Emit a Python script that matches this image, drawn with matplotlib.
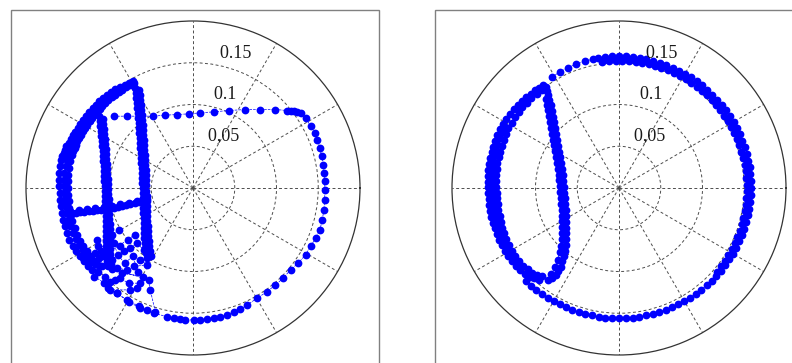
import numpy as np
import matplotlib
matplotlib.use('Agg')
import matplotlib.pyplot as plt
from matplotlib.patches import Rectangle

# radial grid
R_MAX = 0.2
RING_VALUES = [0.05, 0.1, 0.15]
RING_LABELS = ['0,05', '0.1', '0.15']

# ---- left panel: trajectory (x, y components) ----
left_loop_x = [-0.0952, -0.0792, -0.064, -0.048, -0.0332, -0.0192, -0.0052, 0.0088, 0.0248, 0.0428,
               0.0628, 0.0808, 0.0988, 0.1128, 0.1168, 0.1208, 0.1248, 0.1288, 0.1348, 0.1408,
               0.1456, 0.1488, 0.152, 0.154, 0.156, 0.1568, 0.1576, 0.158, 0.1576, 0.1568,
               0.1548, 0.152, 0.1468, 0.1408, 0.1348, 0.126, 0.1168, 0.108, 0.0988, 0.0888,
               0.0768, 0.0648, 0.0568, 0.0488, 0.0408, 0.0328, 0.0248, 0.0168, 0.0088, 0.0008,
               -0.0092, -0.0152, -0.0232, -0.0312, -0.0472, -0.0632, -0.0772, -0.0912, -0.1012]
left_loop_y = [0.086, 0.086, 0.086, 0.086, 0.0872, 0.088, 0.0888, 0.090, 0.0912, 0.0928,
               0.094, 0.094, 0.094, 0.0928, 0.0928, 0.0928, 0.0916, 0.090, 0.084, 0.074,
               0.066, 0.058, 0.048, 0.038, 0.028, 0.018, 0.008, -0.002, -0.014, -0.026,
               -0.038, -0.050, -0.060, -0.070, -0.080, -0.090, -0.098, -0.108, -0.116, -0.124,
               -0.132, -0.140, -0.1452, -0.148, -0.152, -0.154, -0.156, -0.1572, -0.158, -0.158,
               -0.158, -0.1572, -0.156, -0.154, -0.150, -0.144, -0.136, -0.126, -0.120]

left_arc_outer_x = [-0.072, -0.077, -0.082, -0.0876, -0.0932, -0.098, -0.1028, -0.1076, -0.1124, -0.1163,
                    -0.1202, -0.1241, -0.128, -0.1314, -0.1348, -0.1382, -0.1416, -0.1441, -0.1466, -0.1491,
                    -0.1516, -0.1533, -0.155, -0.1567, -0.1584, -0.1592, -0.160, -0.160, -0.160, -0.1596,
                    -0.1592, -0.1582, -0.1572, -0.1554, -0.1536, -0.1508, -0.148, -0.1442, -0.1404, -0.1354,
                    -0.1304, -0.1256, -0.1208]
left_arc_outer_y = [0.1284, 0.126, 0.1237, 0.1213, 0.1188, 0.1155, 0.1118, 0.1081, 0.1044, 0.100,
                    0.0956, 0.0912, 0.0868, 0.082, 0.0772, 0.0724, 0.0676, 0.063, 0.0588, 0.0544,
                    0.050, 0.046, 0.042, 0.038, 0.034, 0.026, 0.018, 0.010, 0.002, -0.006,
                    -0.014, -0.022, -0.030, -0.038, -0.046, -0.054, -0.062, -0.069, -0.076, -0.082,
                    -0.088, -0.093, -0.098]
left_arc_mid_x = [-0.0745, -0.080, -0.0855, -0.091, -0.0955, -0.100, -0.1045, -0.109, -0.1125, -0.116,
                  -0.1195, -0.123, -0.126, -0.129, -0.132, -0.135, -0.1374, -0.1398, -0.1422, -0.1446,
                  -0.1466, -0.1486, -0.1506, -0.1526, -0.154, -0.1546, -0.1548, -0.1546, -0.1542, -0.1532,
                  -0.1516, -0.1496, -0.147, -0.144, -0.1404, -0.1366, -0.1322, -0.1276, -0.1228, -0.1178]
left_arc_mid_y = [0.1253, 0.1225, 0.1196, 0.1168, 0.113, 0.1092, 0.1054, 0.1016, 0.0976, 0.0936,
                  0.0896, 0.0856, 0.0812, 0.0768, 0.0724, 0.068, 0.0636, 0.0592, 0.0548, 0.0504,
                  0.046, 0.040, 0.033, 0.026, 0.018, 0.010, 0.002, -0.006, -0.014, -0.022,
                  -0.030, -0.038, -0.046, -0.054, -0.061, -0.068, -0.0745, -0.0805, -0.086, -0.091]
left_arc_inner_x = [-0.0712, -0.0757, -0.0802, -0.0847, -0.0892, -0.0932, -0.0972, -0.1012, -0.1052, -0.1085,
                    -0.1118, -0.1151, -0.1184, -0.1211, -0.1238, -0.1265, -0.1292, -0.1315, -0.1338, -0.1361,
                    -0.1384, -0.1401, -0.1418, -0.1435, -0.1452, -0.147, -0.1488, -0.1492, -0.1496, -0.1496,
                    -0.1496, -0.1488, -0.148, -0.1462, -0.1444, -0.1418, -0.1392, -0.1352, -0.1312, -0.1268,
                    -0.1224, -0.1178, -0.1132]
left_arc_inner_y = [0.126, 0.1232, 0.1204, 0.1176, 0.1148, 0.1116, 0.1084, 0.1052, 0.102, 0.0985,
                    0.095, 0.0915, 0.088, 0.084, 0.080, 0.076, 0.072, 0.068, 0.064, 0.060,
                    0.056, 0.052, 0.048, 0.044, 0.040, 0.032, 0.024, 0.016, 0.008, 0.0,
                    -0.008, -0.016, -0.024, -0.032, -0.040, -0.048, -0.056, -0.063, -0.070, -0.076,
                    -0.082, -0.087, -0.092]

left_vert_a_x = [-0.0694, -0.0686, -0.0678, -0.0672, -0.0666, -0.066, -0.0655, -0.065, -0.0646, -0.0642,
                 -0.0638, -0.0634, -0.063, -0.0626, -0.0622, -0.0618, -0.0614, -0.0611, -0.0608, -0.0606,
                 -0.0604, -0.0602, -0.060, -0.0598, -0.0596, -0.0594, -0.0592, -0.059, -0.0588, -0.0585,
                 -0.0581, -0.0576, -0.057, -0.0562, -0.0552]
left_vert_a_y = [0.120, 0.114, 0.108, 0.102, 0.096, 0.090, 0.084, 0.078, 0.072, 0.066,
                 0.060, 0.054, 0.048, 0.042, 0.036, 0.030, 0.024, 0.018, 0.012, 0.006,
                 0.0, -0.006, -0.012, -0.018, -0.024, -0.030, -0.036, -0.042, -0.048, -0.054,
                 -0.060, -0.066, -0.072, -0.078, -0.084]
left_vert_b_x = [-0.0644, -0.0636, -0.0629, -0.0623, -0.0617, -0.0612, -0.0607, -0.0603, -0.0599, -0.0595,
                 -0.0591, -0.0587, -0.0583, -0.0579, -0.0575, -0.0571, -0.0568, -0.0565, -0.0562, -0.056,
                 -0.0558, -0.0556, -0.0554, -0.0552, -0.055, -0.0548, -0.0546, -0.0544, -0.0541, -0.0537,
                 -0.0532, -0.0526, -0.0518, -0.0508]
left_vert_b_y = [0.117, 0.111, 0.105, 0.099, 0.093, 0.087, 0.081, 0.075, 0.069, 0.063,
                 0.057, 0.051, 0.045, 0.039, 0.033, 0.027, 0.021, 0.015, 0.009, 0.003,
                 -0.003, -0.009, -0.015, -0.021, -0.027, -0.033, -0.039, -0.045, -0.051, -0.057,
                 -0.063, -0.069, -0.075, -0.081]

left_inner_a_x = [-0.112, -0.1114, -0.1108, -0.1102, -0.1097, -0.1092, -0.1087, -0.1082, -0.1078, -0.1074,
                  -0.107, -0.1066, -0.1063, -0.106, -0.1057, -0.1054, -0.1052, -0.105, -0.1048, -0.1046,
                  -0.1044, -0.1042, -0.1041, -0.104, -0.104, -0.1039, -0.1037, -0.1034, -0.103, -0.1025,
                  -0.1018]
left_inner_a_y = [0.086, 0.080, 0.074, 0.068, 0.062, 0.056, 0.050, 0.044, 0.038, 0.032,
                  0.026, 0.020, 0.014, 0.008, 0.002, -0.004, -0.010, -0.016, -0.022, -0.028,
                  -0.034, -0.040, -0.046, -0.052, -0.058, -0.064, -0.070, -0.076, -0.082, -0.088,
                  -0.094]
left_inner_b_x = [-0.1078, -0.1072, -0.1066, -0.106, -0.1055, -0.105, -0.1045, -0.104, -0.1036, -0.1032,
                  -0.1028, -0.1024, -0.1021, -0.1018, -0.1015, -0.1012, -0.101, -0.1008, -0.1006, -0.1004,
                  -0.1002, -0.100, -0.0999, -0.0998, -0.0998, -0.0997, -0.0995, -0.0992, -0.0988, -0.0983,
                  -0.0976]
left_inner_b_y = [0.083, 0.077, 0.071, 0.065, 0.059, 0.053, 0.047, 0.041, 0.035, 0.029,
                  0.023, 0.017, 0.011, 0.005, -0.001, -0.007, -0.013, -0.019, -0.025, -0.031,
                  -0.037, -0.043, -0.049, -0.055, -0.061, -0.067, -0.073, -0.079, -0.085, -0.091,
                  -0.097]

left_bar_x = [-0.150, -0.145, -0.140, -0.135, -0.130, -0.125, -0.120, -0.115, -0.110, -0.105,
              -0.100, -0.095, -0.090, -0.085, -0.080, -0.075, -0.070, -0.065, -0.060, -0.055]
left_bar_y = [-0.0302, -0.0298, -0.0294, -0.0289, -0.0285, -0.028, -0.0274, -0.0268, -0.0261, -0.0253,
              -0.0245, -0.0236, -0.0226, -0.0215, -0.0204, -0.0192, -0.0179, -0.0165, -0.015, -0.0134]
left_bar_b_x = [-0.147, -0.137, -0.127, -0.117, -0.107, -0.097, -0.087, -0.077, -0.067, -0.057]
left_bar_b_y = [-0.0272, -0.0263, -0.0253, -0.0242, -0.0229, -0.0213, -0.0195, -0.0175, -0.0152, -0.0125]

left_cluster_x = [-0.0892, -0.0972, -0.1012, -0.0872, -0.1132, -0.1172, -0.1072, -0.0972, -0.0832, -0.0752,
                  -0.0672, -0.0592, -0.0552, -0.0532, -0.0632, -0.0552, -0.0712, -0.0792, -0.0912, -0.1032,
                  -0.1132, -0.1052, -0.0992, -0.0872, -0.0772, -0.0632, -0.0672, -0.0752, -0.0992, -0.0912,
                  -0.0792, -0.0652, -0.0552, -0.0452, -0.0512, -0.0532, -0.1232, -0.1312, -0.1092,
                  -0.115, -0.110, -0.095, -0.090, -0.082, -0.072, -0.066, -0.060, -0.085, -0.094,
                  -0.106, -0.118, -0.112, -0.078, -0.070]
left_cluster_y = [-0.050, -0.056, -0.064, -0.070, -0.070, -0.078, -0.082, -0.086, -0.076, -0.072,
                  -0.066, -0.074, -0.066, -0.078, -0.086, -0.092, -0.094, -0.098, -0.096, -0.092,
                  -0.100, -0.106, -0.112, -0.108, -0.114, -0.114, -0.120, -0.122, -0.122, -0.126,
                  -0.134, -0.1412, -0.146, -0.148, -0.122, -0.110, -0.088, -0.084, -0.094,
                  -0.062, -0.075, -0.066, -0.080, -0.090, -0.082, -0.100, -0.106, -0.102, -0.110,
                  -0.114, -0.106, -0.084, -0.062, -0.056]

# ---- right panel ----
# big circle, read in polar form (angle in degrees, radius)
right_circle_theta = [121, 117, 113, 109, 105, 101.5, 99, 96, 93, 90,
                      87, 84, 81, 78, 75, 72, 69, 66, 63, 60,
                      57, 54, 51, 48, 45, 42, 39, 36, 33, 30,
                      27, 24, 21, 18, 15, 12, 9, 6, 3, 0,
                      -3, -6, -9, -12, -15, -18, -21, -24, -27, -30,
                      -33, -36, -39, -42, -45, -48, -51, -54, -57, -60,
                      -63, -66, -69, -72, -75, -78, -81, -84, -87, -90,
                      -93, -96, -99, -102, -105, -108, -111, -114, -117, -120,
                      -123, -126, -129, -132, -135]
right_circle_r = [0.1554, 0.1560, 0.1565, 0.1570, 0.1572, 0.1575, 0.1576, 0.1577, 0.1578, 0.1578,
                  0.1578, 0.1577, 0.1577, 0.1576, 0.1576, 0.1577, 0.1578, 0.1578, 0.1579, 0.1580,
                  0.1580, 0.1580, 0.1581, 0.1581, 0.1582, 0.1582, 0.1583, 0.1583, 0.1583, 0.1584,
                  0.1584, 0.1584, 0.1584, 0.1584, 0.1584, 0.1583, 0.1583, 0.1583, 0.1582, 0.1582,
                  0.1581, 0.1580, 0.1580, 0.1579, 0.1578, 0.1577, 0.1576, 0.1575, 0.1574, 0.1573,
                  0.1572, 0.1571, 0.1570, 0.1569, 0.1568, 0.1567, 0.1566, 0.1565, 0.1564, 0.1563,
                  0.1562, 0.1562, 0.1561, 0.1561, 0.1560, 0.1560, 0.1560, 0.1560, 0.1560, 0.1560,
                  0.1560, 0.1560, 0.1561, 0.1561, 0.1562, 0.1562, 0.1563, 0.1564, 0.1565, 0.1566,
                  0.1567, 0.1568, 0.1570, 0.1572, 0.1574]
right_circle_b_theta = [97.5, 94.5, 91.5, 88.5, 85.5, 82.5, 79.5, 76.5, 73.5, 70.5,
                        67.5, 64.5, 61.5, 58.5, 55.5, 52.5, 49.5, 46.5, 43.5, 40.5,
                        37.5, 34.5, 31.5, 28.5, 25.5, 22.5, 19.5, 16.5, 13.5, 10.5,
                        7.5, 4.5, 1.5, -1.5, -4.5, -7.5, -10.5, -13.5, -16.5, -19.5,
                        -22.5, -25.5, -28.5, -31.5, -34.5, -37.5, -40.5]
right_circle_b_r = [0.1525, 0.1522, 0.1520, 0.1520, 0.1520, 0.1521, 0.1522, 0.1522, 0.1523, 0.1524,
                    0.1525, 0.1526, 0.1527, 0.1528, 0.1528, 0.1529, 0.1530, 0.1530, 0.1530, 0.1530,
                    0.1530, 0.1530, 0.1530, 0.1530, 0.1530, 0.1530, 0.1530, 0.1530, 0.1530, 0.1530,
                    0.1530, 0.1530, 0.1530, 0.1530, 0.1530, 0.1530, 0.1530, 0.1530, 0.1531, 0.1532,
                    0.1533, 0.1534, 0.1535, 0.1536, 0.1537, 0.1538, 0.1540]

right_loop_outer_x = [-0.0908, -0.0958, -0.1008, -0.1058, -0.1108, -0.1158, -0.1208, -0.1258, -0.1308, -0.1348,
                      -0.1388, -0.1422, -0.1456, -0.1482, -0.1508, -0.1526, -0.1544, -0.1554, -0.1564, -0.1566,
                      -0.1568, -0.1566, -0.1564, -0.1558, -0.1552, -0.154, -0.1528, -0.1508, -0.1488, -0.1462,
                      -0.1436, -0.1402, -0.1368, -0.1324, -0.128, -0.123, -0.118, -0.1124, -0.1068, -0.1012,
                      -0.0956]
right_loop_outer_y = [0.1236, 0.1202, 0.1168, 0.1128, 0.1088, 0.1042, 0.0996, 0.0942, 0.0888, 0.0828,
                      0.0768, 0.0702, 0.0636, 0.0566, 0.0496, 0.0426, 0.0356, 0.0286, 0.0216, 0.0146,
                      0.0076, 0.0006, -0.0064, -0.0134, -0.0204, -0.0274, -0.0344, -0.0414, -0.0484, -0.0554,
                      -0.0624, -0.0688, -0.0752, -0.0814, -0.0876, -0.093, -0.0984, -0.1024, -0.1064, -0.108,
                      -0.1096]
right_loop_mid_x = [-0.137, -0.140, -0.143, -0.1456, -0.1478, -0.1496, -0.1508, -0.1514, -0.1518, -0.152,
                    -0.1518, -0.1516, -0.1512, -0.1504, -0.1496, -0.1482, -0.1468, -0.145, -0.143, -0.1404,
                    -0.1376, -0.1344, -0.1306, -0.1264]
right_loop_mid_y = [0.073, 0.067, 0.060, 0.053, 0.046, 0.039, 0.032, 0.025, 0.018, 0.011,
                    0.004, -0.003, -0.010, -0.017, -0.024, -0.031, -0.038, -0.045, -0.052, -0.059,
                    -0.0656, -0.072, -0.0784, -0.0842]
right_loop_inner_x = [-0.0928, -0.0988, -0.1048, -0.1102, -0.1156, -0.1202, -0.1248, -0.1286, -0.1324, -0.1352,
                      -0.138, -0.1402, -0.1424, -0.144, -0.1456, -0.1462, -0.1468, -0.1468, -0.1468, -0.1464,
                      -0.146, -0.1452, -0.1444, -0.143, -0.1416, -0.1396, -0.1376, -0.1348, -0.132, -0.1282,
                      -0.1244, -0.1196, -0.1148, -0.1092, -0.1036, -0.0982, -0.0928]
right_loop_inner_y = [0.1176, 0.1126, 0.1076, 0.1022, 0.0968, 0.0908, 0.0848, 0.0782, 0.0716, 0.0646,
                      0.0576, 0.0506, 0.0436, 0.0366, 0.0296, 0.0226, 0.0156, 0.0086, 0.0016, -0.0054,
                      -0.0124, -0.0194, -0.0264, -0.0334, -0.0404, -0.0474, -0.0544, -0.0614, -0.0684, -0.075,
                      -0.0816, -0.0874, -0.0932, -0.0974, -0.1016, -0.1036, -0.1056]

right_return_a_x = [-0.0848, -0.080, -0.0756, -0.0726, -0.070, -0.068, -0.066, -0.065, -0.064, -0.0636,
                    -0.0632, -0.0632, -0.0632, -0.0636, -0.064, -0.0644, -0.0648, -0.0654, -0.066, -0.0668,
                    -0.0676, -0.0686, -0.0696, -0.0708, -0.072, -0.0732, -0.0744, -0.0756, -0.0768, -0.078,
                    -0.0792, -0.0806, -0.082, -0.0834, -0.0848, -0.0864, -0.088]
right_return_a_y = [-0.1096, -0.1074, -0.1044, -0.0996, -0.0944, -0.088, -0.0816, -0.075, -0.0684, -0.0614,
                    -0.0544, -0.0474, -0.0404, -0.0334, -0.0264, -0.0194, -0.0124, -0.0054, 0.0016, 0.0086,
                    0.0156, 0.0226, 0.0296, 0.0366, 0.0436, 0.0506, 0.0576, 0.0646, 0.0716, 0.0786,
                    0.0856, 0.0926, 0.0996, 0.1056, 0.1116, 0.1162, 0.1208]
right_return_b_x = [-0.0815, -0.0765, -0.0735, -0.0712, -0.0698, -0.0688, -0.0684, -0.0682, -0.0682, -0.0684,
                    -0.0688, -0.0692, -0.0696, -0.0702, -0.0708, -0.0716, -0.0724, -0.0734, -0.0744, -0.0756,
                    -0.0768, -0.078, -0.0792, -0.0804, -0.0816, -0.0828, -0.084, -0.0853, -0.0866, -0.0878]
right_return_b_y = [-0.1035, -0.095, -0.086, -0.077, -0.069, -0.061, -0.054, -0.047, -0.040, -0.033,
                    -0.026, -0.019, -0.012, -0.005, 0.002, 0.009, 0.016, 0.023, 0.030, 0.037,
                    0.044, 0.051, 0.058, 0.065, 0.072, 0.079, 0.086, 0.093, 0.100, 0.106]

left_xy = [
    (left_loop_x, left_loop_y),
    (left_arc_outer_x, left_arc_outer_y),
    (left_arc_mid_x, left_arc_mid_y),
    (left_arc_inner_x, left_arc_inner_y),
    (left_vert_a_x, left_vert_a_y),
    (left_vert_b_x, left_vert_b_y),
    (left_inner_a_x, left_inner_a_y),
    (left_inner_b_x, left_inner_b_y),
    (left_bar_x, left_bar_y),
    (left_bar_b_x, left_bar_b_y),
    (left_cluster_x, left_cluster_y),
]
right_xy = [
    (right_loop_outer_x, right_loop_outer_y),
    (right_loop_mid_x, right_loop_mid_y),
    (right_loop_inner_x, right_loop_inner_y),
    (right_return_a_x, right_return_a_y),
    (right_return_b_x, right_return_b_y),
]
right_polar = [
    (right_circle_theta, right_circle_r),
    (right_circle_b_theta, right_circle_b_r),
]

STYLE = dict(color='blue', linestyle='--', linewidth=0.5,
             marker='o', markersize=5.6, markeredgewidth=0)


def draw_panel(fig, rect, xy_segments, polar_segments=()):
    ax = fig.add_axes(rect, projection='polar')
    ax.set_ylim(0, R_MAX)
    ax.set_yticks(RING_VALUES)
    ax.set_yticklabels([])
    ax.set_xticks(np.deg2rad(np.arange(0, 360, 30)))
    ax.set_xticklabels([])
    ax.grid(True, color='#4d4d4d', linestyle=(0, (3, 2.5)), linewidth=0.7)
    ax.spines['polar'].set_color('#333333')
    ax.spines['polar'].set_linewidth(0.9)

    for x, y in xy_segments:
        x = np.asarray(x)
        y = np.asarray(y)
        theta = np.unwrap(np.arctan2(y, x))
        ax.plot(theta, np.hypot(x, y), **STYLE)
    for th, r in polar_segments:
        ax.plot(np.deg2rad(th), r, **STYLE)

    # ring labels MATLAB-style at 82 degrees
    for val, lab in zip(RING_VALUES, RING_LABELS):
        ax.text(np.deg2rad(82), val + 0.0025, '  ' + lab, ha='left', va='bottom',
                fontsize=13, family='Liberation Serif', color='#1a1a1a')
    return ax


fig = plt.figure(figsize=(7.92, 3.63), dpi=100)

W, H = 792.0, 363.0
# frames of the two MATLAB axes (clipped by the image)
fig.add_artist(Rectangle((11 / W, -0.2), (379 - 11) / W, 1.2 - 10 / H, transform=fig.transFigure,
                         fill=False, edgecolor='#808080', linewidth=1.0, clip_on=False))
fig.add_artist(Rectangle((435 / W, -0.2), 0.6, 1.2 - 10 / H, transform=fig.transFigure,
                         fill=False, edgecolor='#808080', linewidth=1.0, clip_on=False))

radius = 167
draw_panel(fig, [(193 - radius) / W, (H - 188 - radius) / H, 2 * radius / W, 2 * radius / H], left_xy)
draw_panel(fig, [(619 - radius) / W, (H - 188 - radius) / H, 2 * radius / W, 2 * radius / H],
           right_xy, right_polar)

fig.savefig('out.png', dpi=100)
